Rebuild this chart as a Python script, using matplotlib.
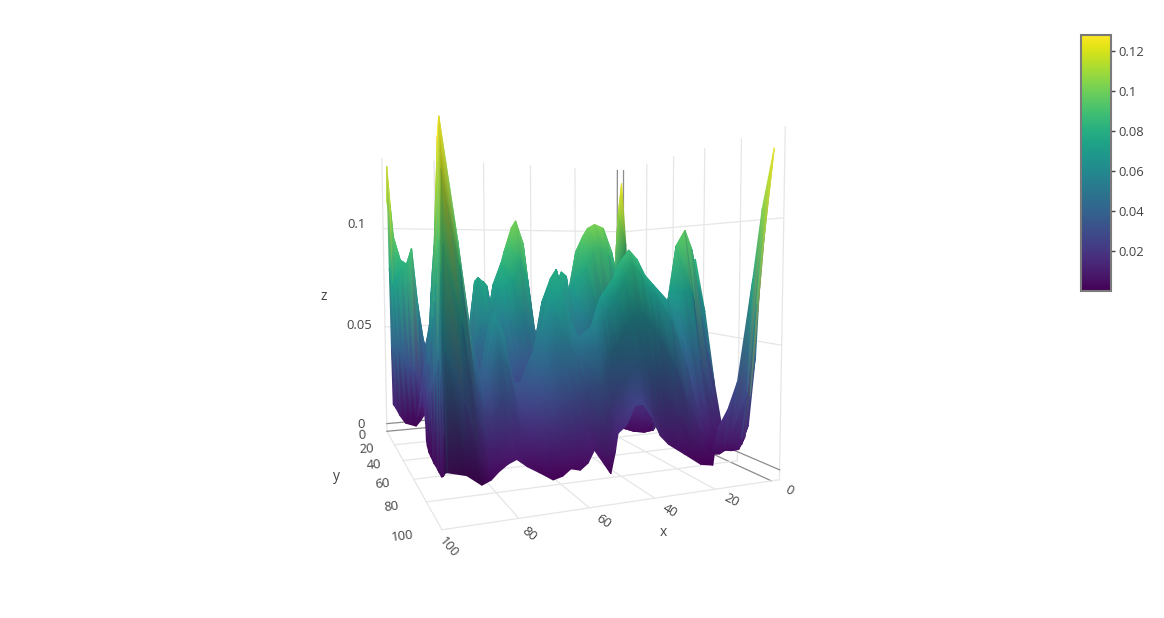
import numpy as np
import matplotlib
matplotlib.use("Agg")
import matplotlib.pyplot as plt
from matplotlib import cm, colors, tri
from matplotlib.collections import TriMesh
from mpl_toolkits.mplot3d import proj3d

plt.rcParams['font.family'] = ['Open Sans', 'DejaVu Sans']

# surface heights are typed in thousandths
row_frac = [0, .04, .08, .13, .18, .24, .30, .36, .42, .48, .54, .60, .66, .72, .78, .83, .87, .90, .93, .955, .98, 1]
# the tall blade on the left has a slanted side, so its first four columns move per row
hem_x = [89.5, 89.5, 89.5, 89.5, 89.5, 89.5, 90, 90.5, 91, 91.7, 92.3, 92.7, 93, 93.3, 94, 94, 94.2, 94.3, 94.4, 94.5, 94.5, 94.5]
side1_x = [89.3, 89.3, 89.3, 89.3, 89.3, 89.3, 89.8, 90.2, 90.6, 91.1, 91.6, 92, 92.3, 92.7, 93.3, 93.5, 93.8, 93.9, 93.9, 94.1, 94.1, 94.2]
side2_x = [89.2, 89.2, 89.2, 89.2, 89.2, 89.2, 89.5, 89.9, 90.2, 90.6, 91, 91.3, 91.7, 92.2, 92.7, 93.1, 93.4, 93.4, 93.5, 93.6, 93.8, 93.9]
crest_x = [89, 89, 89, 89, 89, 89, 89.3, 89.6, 89.8, 90, 90.3, 90.6, 91, 91.6, 92.2, 92.6, 93, 93, 93, 93.2, 93.4, 93.6]
col_x = [88, 85, 82, 79, 76, 73, 70, 67, 64, 61, 58, 55, 52, 49, 46, 43, 40, 37, 34, 31, 28, 25, 22, 19, 16, 13, 10, 7, 5, 3, 1.5, 0]
y_edge = [78, 78, 78, 78, 78, 83, 82, 80, 79, 78, 79, 81, 84, 84, 83, 83, 82, 80, 85, 82, 78, 78, 78, 78, 78, 78, 78, 83, 87, 89, 87, 88, 90, 94, 96, 99]
z_main = [
    [3, 3, 4, 6, 12, 20, 20, 13, 9, 3, 2, 1, 1, 1, 2, 2, 2, 2, 2, 2, 3, 5],
    [3, 3, 5, 8, 15, 23, 25, 24, 23, 21, 26, 28, 30, 34, 39, 42, 45, 48, 41, 31, 19, 5],
    [3, 4, 5, 10, 17, 27, 30, 34, 36, 38, 48, 55, 60, 67, 75, 82, 88, 92, 79, 61, 35, 5],
    [3, 4, 6, 12, 20, 30, 35, 45, 50, 56, 70, 82, 90, 100, 112, 122, 131, 138, 118, 90, 50, 5],
    [3, 4, 8, 10, 14, 18, 20, 24, 28, 32, 38, 44, 50, 58, 70, 80, 88, 92, 82, 60, 30, 3],
    [3, 4, 6, 8, 10, 12, 14, 15, 18, 20, 24, 28, 34, 42, 50, 55, 55, 50, 38, 24, 10, 1],
    [3, 4, 5, 6, 7, 8, 9, 11, 15, 20, 24, 26, 28, 32, 36, 38, 38, 34, 26, 14, 6, 2],
    [3, 4, 5, 6, 8, 10, 12, 14, 16, 18, 16, 18, 24, 32, 39, 41, 38, 33, 22, 11, 6, 4],
    [4, 5, 6, 8, 12, 18, 26, 32, 40, 38, 28, 26, 32, 42, 60, 63, 58, 46, 30, 16, 8, 6],
    [5, 6, 7, 9, 14, 24, 38, 52, 74, 76, 56, 36, 32, 40, 54, 56, 52, 41, 27, 15, 9, 7],
    [5, 6, 8, 12, 20, 34, 50, 64, 74, 72, 52, 34, 26, 28, 33, 33, 30, 25, 17, 10, 6, 4],
    [6, 8, 12, 18, 26, 34, 40, 44, 50, 48, 38, 26, 20, 26, 32, 34, 30, 25, 18, 10, 4, 2],
    [8, 12, 18, 28, 42, 60, 72, 70, 58, 42, 28, 22, 26, 36, 44, 44, 38, 30, 20, 10, 3, 0],
    [10, 16, 24, 38, 54, 74, 82, 72, 56, 40, 28, 26, 34, 44, 50, 48, 38, 30, 20, 10, 3, 1],
    [12, 20, 32, 50, 70, 88, 90, 74, 50, 34, 28, 34, 48, 66, 72, 66, 50, 38, 26, 14, 6, 3],
    [14, 24, 38, 58, 82, 100, 103, 84, 54, 32, 26, 38, 56, 76, 80, 72, 52, 40, 28, 15, 6, 2],
    [12, 22, 36, 54, 76, 92, 92, 74, 50, 30, 24, 32, 46, 62, 66, 60, 52, 44, 30, 16, 7, 4],
    [10, 16, 26, 38, 50, 58, 56, 46, 32, 24, 22, 26, 32, 42, 46, 50, 50, 44, 30, 17, 10, 8],
    [8, 10, 16, 22, 26, 30, 32, 34, 34, 30, 24, 22, 26, 34, 44, 54, 58, 50, 34, 18, 5, 0],
    [6, 8, 10, 14, 20, 30, 42, 54, 56, 52, 36, 26, 26, 36, 50, 62, 68, 60, 42, 24, 11, 7],
    [6, 8, 10, 14, 22, 38, 56, 72, 78, 76, 54, 34, 30, 40, 54, 66, 70, 62, 44, 26, 16, 13],
    [6, 8, 10, 14, 22, 32, 42, 54, 56, 52, 38, 32, 34, 44, 58, 70, 75, 68, 48, 30, 20, 16],
    [8, 10, 14, 22, 34, 50, 55, 48, 36, 28, 26, 30, 38, 50, 64, 78, 83, 76, 56, 36, 26, 24],
    [10, 14, 22, 34, 50, 68, 72, 62, 44, 32, 28, 32, 42, 54, 70, 84, 88, 82, 60, 40, 28, 24],
    [10, 16, 26, 42, 62, 88, 92, 80, 54, 36, 30, 32, 42, 54, 68, 80, 84, 78, 60, 42, 24, 18],
    [10, 18, 30, 50, 74, 96, 100, 88, 58, 32, 10, 8, 20, 38, 58, 72, 77, 72, 56, 36, 18, 10],
    [10, 18, 30, 52, 78, 99, 102, 90, 58, 26, 6, 3, 14, 34, 54, 68, 73, 68, 50, 28, 12, 6],
    [10, 18, 30, 52, 80, 98, 100, 86, 52, 22, 4, 2, 10, 28, 48, 60, 66, 58, 38, 18, 7, 3],
    [10, 16, 26, 44, 66, 84, 88, 74, 42, 18, 3, 2, 8, 26, 40, 46, 50, 40, 22, 8, 2, 0],
    [8, 14, 22, 34, 46, 54, 56, 46, 28, 10, 3, 3, 36, 70, 62, 45, 32, 22, 12, 4, 1, 0],
    [8, 12, 16, 22, 28, 32, 32, 24, 12, 5, 3, 8, 64, 90, 70, 45, 28, 16, 6, 2, 3, 14],
    [10, 14, 20, 26, 26, 22, 16, 10, 6, 4, 8, 48, 84, 97, 68, 40, 20, 8, 3, 2, 6, 22],
    [16, 26, 30, 28, 20, 14, 10, 8, 6, 8, 22, 76, 88, 88, 36, 14, 6, 3, 3, 5, 14, 34],
    [40, 72, 60, 34, 18, 12, 10, 10, 14, 24, 50, 72, 78, 58, 26, 8, 4, 3, 5, 10, 30, 76],
    [70, 110, 84, 44, 20, 14, 14, 22, 36, 64, 70, 82, 72, 42, 16, 5, 3, 4, 10, 28, 66, 104],
    [90, 127, 92, 42, 20, 15, 20, 35, 55, 78, 80, 84, 60, 28, 3, 2, 6, 15, 45, 95, 115, 127],
]
# small patch at the back left corner
back_x = [98.5, 97.5, 96, 94, 92, 90, 88, 86, 84, 80]
back_y = [0, 2, 4, 6, 8]
z_back = [
    [114, 131, 80, 40, 12],
    [105, 112, 72, 40, 10],
    [95, 88, 75, 40, 6],
    [80, 84, 80, 35, 2],
    [70, 78, 82, 30, 1],
    [62, 82, 90, 28, 0],
    [45, 60, 62, 20, 3],
    [35, 43, 43, 20, 7],
    [30, 36, 36, 18, 7],
    [25, 30, 30, 15, 6],
]

x_ticks = [0, 20, 40, 60, 80, 100]
y_ticks = [0, 20, 40, 60, 80, 100]
z_ticks = [0, 0.05, 0.1]
cbar_ticks = [0.02, 0.04, 0.06, 0.08, 0.1, 0.12]
cbar_labels = ['0.02', '0.04', '0.06', '0.08', '0.1', '0.12']

W, H = 1164, 618
xmin, xmax, ymin, ymax, zmin, zmax = -3, 100, 0, 100, -0.004, 0.135
GRID, ZERO, TEXT = '#e6e6e6', '#8c8c8c', '#444444'

fig = plt.figure(figsize=(W / 100, H / 100), dpi=100)
rect = [294.6 / W, (H - 563.9) / H, 512.5 / W, 512.5 / H]
ax = fig.add_axes(rect, projection='3d')
ax.set_xlim(xmin, xmax)
ax.set_ylim(ymin, ymax)
ax.set_zlim(zmin, zmax)
ax.view_init(3.449, 68.653, 0.19)
ax.set_proj_type('persp', focal_length=0.2454)
ax.set_box_aspect((0.9762, 0.9918, 1.0))
ax.set_axis_off()


def line3(xs, ys, zs, color=GRID):
    ax.plot(xs, ys, zs, color=color, lw=0.9)


# walls and floor
for x in x_ticks[1:]:
    line3([x, x], [ymin, ymin], [zmin, zmax])
    line3([x, x], [ymin, ymax], [zmin, zmin])
line3([0, 0], [ymin, ymin], [zmin, zmax], ZERO)
line3([0, 0], [ymin, ymax], [zmin, zmin], ZERO)
for y in y_ticks[1:]:
    line3([xmin, xmin], [y, y], [zmin, zmax])
    line3([xmin, xmax], [y, y], [zmin, zmin])
line3([xmin, xmin], [ymin, ymin], [zmin, zmax], ZERO)
line3([xmin, xmax], [ymin, ymin], [zmin, zmin], ZERO)
for z in z_ticks[1:]:
    line3([xmax, xmin, xmin], [ymin, ymin, ymax], [z, z, z])
line3([xmax, xmin, xmin], [ymin, ymin, ymax], [0, 0, 0], ZERO)

# surface: build both patches, project them, sort triangles back to front
norm = colors.Normalize(0, 0.1275)
cmap = matplotlib.colormaps['viridis']
M = ax.get_proj()


def patch(X, Y, Z, dim):
    # front walls come out darker in the picture
    dz = np.gradient(Z * 1000, axis=1) / np.maximum(np.gradient(Y, axis=1), 0.2)
    dz[1:-1] = (dz[:-2] + 2 * dz[1:-1] + dz[2:]) / 4
    shade = 1 - dim * np.clip((-dz - 3) / 6, 0, 1)
    rgba = cmap(norm(Z))
    rgba[..., :3] *= shade[..., None]
    u, v, w = proj3d.proj_transform(X.ravel(), Y.ravel(), Z.ravel(), M)
    nc, nr = Z.shape
    idx = np.arange(nc * nr).reshape(nc, nr)
    a, b, c, d = idx[:-1, :-1].ravel(), idx[1:, :-1].ravel(), idx[1:, 1:].ravel(), idx[:-1, 1:].ravel()
    tris = np.vstack([np.c_[a, b, c], np.c_[a, c, d]])
    return np.asarray(u), np.asarray(v), np.asarray(w), rgba.reshape(-1, 4), tris


Zm = np.array(z_main) / 1000
fr = np.array(row_frac)
Ym = np.array(y_edge)[:, None] * fr
Xm = np.array([hem_x, side1_x, side2_x, crest_x] + [[x] * len(fr) for x in col_x], float)
Zb = np.array(z_back) / 1000
Xb = np.array(back_x, float)[:, None] * np.ones(len(back_y))
Yb = np.ones((len(back_x), 1)) * np.array(back_y, float)

parts = [patch(Xm, Ym, Zm, 0.26), patch(Xb, Yb, Zb, 0.0)]
offset = len(parts[0][0])
u = np.r_[parts[0][0], parts[1][0]]
v = np.r_[parts[0][1], parts[1][1]]
w = np.r_[parts[0][2], parts[1][2]]
rgba = np.vstack([parts[0][3], parts[1][3]])
tris = np.vstack([parts[0][4], parts[1][4] + offset])
tris = tris[np.argsort(-w[tris].mean(axis=1))]

ax2 = fig.add_axes(rect)
ax2.set_xlim(-0.095, 0.09)
ax2.set_ylim(-0.095, 0.09)
ax2.axis('off')
mesh = TriMesh(tri.Triangulation(u, v, tris))
mesh.set_facecolor(rgba)
ax2.add_collection(mesh)


def label(px, py, s, rot=0, size=9.4):
    fig.text(px / W, 1 - py / H, s, color=TEXT, fontsize=size, rotation=rot, rotation_mode='anchor', ha='center', va='center')


# tick labels and axis titles
for s, px, py, r in zip(x_ticks, [789, 732, 670, 603, 529, 449], [491, 500, 511, 521, 534, 547], [-27, -28, -31, -35, -40, -50]):
    label(px, py, str(s), r)
for s, px, py, r in zip(y_ticks, [362, 367, 374, 382, 391, 402], [435, 449, 465, 484, 507, 536], [3, 3, 4, 5, 6, 7]):
    label(px, py, str(s), r)
for s, px, py in zip(['0', '0.05', '0.1'], [361, 359, 357], [424, 326, 224]):
    label(px, py, s)
label(663, 533, 'x', size=10)
label(336, 477, 'y', size=10)
label(324, 297, 'z', size=10)

# colour bar
cax = fig.add_axes([1081 / W, 1 - 291 / H, 30 / W, 256 / H])
cb = fig.colorbar(cm.ScalarMappable(norm=colors.Normalize(0, 0.128), cmap=cmap), cax=cax, ticks=cbar_ticks)
cb.ax.set_yticklabels(cbar_labels)
cb.ax.tick_params(length=3, width=1, color=TEXT, labelcolor=TEXT, labelsize=9.4, pad=2)
cb.outline.set_edgecolor('#7a7a7a')
cb.outline.set_linewidth(1.5)

fig.savefig('out.png', dpi=100)
